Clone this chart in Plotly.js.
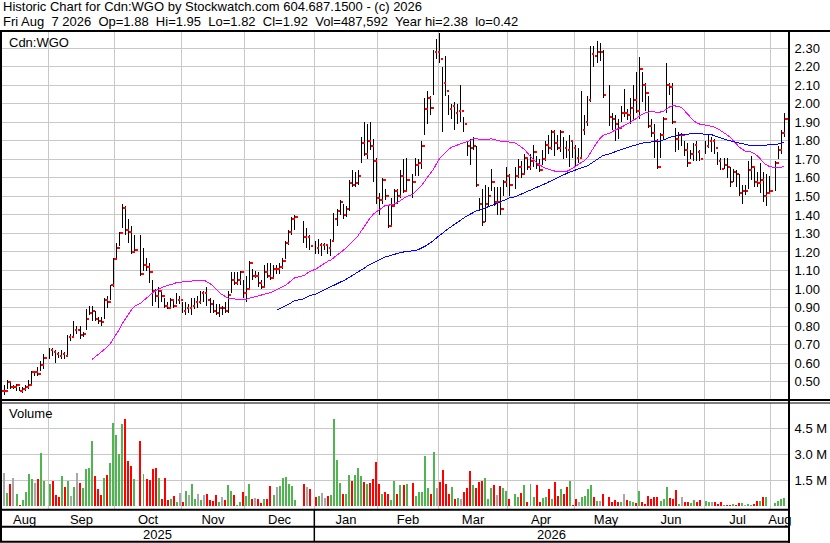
<!DOCTYPE html>
<html>
<head>
<meta charset="utf-8">
<script src="https://cdn.plot.ly/plotly-3.0.1.min.js"></script>
<style>
html,body{margin:0;padding:0;background:#fff;overflow:hidden}
#chart{width:830px;height:543px}
#chart .scatterlayer path.js-line{shape-rendering:crispEdges}
#chart .barlayer path{shape-rendering:crispEdges}
</style>
</head>
<body>
<div id="chart"></div>
<script>
// ---------------- DATA ----------------
const symbol = 'Cdn:WGO';
const startDate = '2025-08-11';
const holidays = ['2025-09-01','2025-10-13','2025-12-25','2025-12-26','2026-01-01',
                  '2026-02-16','2026-04-03','2026-05-18','2026-07-01','2026-08-03'];

const high = [
 0.50,0.48,0.51,0.50,0.48,0.49,0.47,0.47,0.48,0.51,0.56,0.56,0.58,0.61,0.65,
 0.68,0.68,0.67,0.66,0.67,0.66,0.75,0.76,0.83,0.80,0.80,0.77,0.89,0.91,0.91,0.88,0.85,0.85,0.95,0.96,1.02,
 1.17,1.25,1.31,1.46,1.45,1.38,1.34,1.29,1.29,1.22,1.17,1.14,1.05,1.00,1.01,0.99,0.95,0.93,0.95,0.94,0.98,0.96,
 0.93,0.93,0.92,0.95,0.95,0.96,0.99,0.99,1.01,0.95,0.94,0.92,0.92,0.91,0.93,0.99,1.09,1.09,1.09,1.10,
 1.05,1.07,1.15,1.11,1.10,1.09,1.05,1.13,1.14,1.14,1.13,1.13,1.14,1.17,1.26,1.32,1.39,1.40,1.37,1.33,1.29,
 1.26,1.27,1.25,1.25,1.24,1.27,1.41,1.43,1.48,1.46,1.45,1.59,1.64,1.63,1.64,1.82,1.90,1.89,1.90,1.81,1.71,
 1.52,1.60,1.54,1.45,1.49,1.54,1.54,1.64,1.70,1.71,1.62,1.71,1.70,1.80,2.03,2.07,2.04,2.29,2.35,
 2.38,2.20,2.26,2.05,2.00,2.01,2.00,2.10,1.93,1.80,1.81,1.82,1.77,1.49,1.54,1.56,1.55,1.65,1.55,1.55,1.55,1.59,
 1.66,1.62,1.66,1.70,1.69,1.73,1.70,1.73,1.78,1.72,1.70,1.75,1.80,1.83,1.86,1.86,1.83,1.86,1.82,1.80,1.83,
 1.80,1.78,1.76,2.07,1.94,2.04,2.31,2.31,2.34,2.33,2.29,2.10,1.95,1.94,1.92,1.99,2.08,1.97,2.03,2.10,
 2.17,2.25,2.17,2.11,2.04,1.92,1.89,1.81,1.84,1.93,2.22,2.11,2.11,1.87,1.85,1.84,1.80,1.79,1.75,1.79,1.80,1.75,
 1.80,1.83,1.82,1.81,1.74,1.71,1.71,1.71,1.66,1.65,1.64,1.62,1.56,1.56,1.69,1.72,1.66,1.63,1.68,1.63,1.62,1.61,
 1.69,1.77,1.86,1.95
];
const low = [
 0.42,0.43,0.46,0.46,0.46,0.45,0.45,0.44,0.45,0.46,0.49,0.53,0.53,0.56,0.57,
 0.62,0.64,0.60,0.63,0.62,0.62,0.64,0.72,0.74,0.76,0.73,0.74,0.78,0.86,0.83,0.83,0.81,0.80,0.84,0.90,0.94,
 1.01,1.16,1.23,1.33,1.29,1.25,1.19,1.20,1.07,1.10,1.10,1.03,0.91,0.93,0.90,0.93,0.90,0.89,0.90,0.90,0.92,0.92,
 0.87,0.86,0.87,0.86,0.89,0.90,0.92,0.93,0.91,0.87,0.87,0.86,0.85,0.86,0.87,0.87,0.98,1.02,1.02,1.02,
 0.95,0.93,1.00,1.05,1.06,1.01,1.00,1.01,1.06,1.05,1.06,1.08,1.08,1.11,1.16,1.24,1.29,1.32,1.25,1.22,1.21,
 1.19,1.19,1.18,1.21,1.19,1.18,1.26,1.34,1.40,1.38,1.39,1.42,1.55,1.55,1.56,1.68,1.72,1.70,1.75,1.58,1.46,
 1.40,1.46,1.48,1.33,1.34,1.45,1.46,1.49,1.52,1.53,1.49,1.61,1.61,1.65,1.83,1.89,1.94,2.05,2.24,
 2.22,1.85,2.04,1.94,1.92,1.86,1.89,1.90,1.85,1.72,1.67,1.75,1.55,1.42,1.34,1.36,1.45,1.53,1.45,1.40,1.40,1.50,
 1.55,1.50,1.54,1.60,1.60,1.62,1.64,1.64,1.66,1.65,1.63,1.67,1.69,1.73,1.75,1.72,1.75,1.74,1.70,1.71,1.66,
 1.71,1.66,1.68,1.70,1.83,1.88,2.01,2.20,2.22,2.23,2.03,1.88,1.86,1.80,1.81,1.90,1.93,1.91,1.89,1.92,
 1.95,1.92,2.01,1.96,1.87,1.82,1.71,1.65,1.71,1.81,1.95,2.05,1.89,1.74,1.75,1.77,1.72,1.66,1.70,1.69,1.69,1.69,
 1.73,1.76,1.74,1.73,1.67,1.64,1.65,1.60,1.55,1.58,1.55,1.50,1.46,1.51,1.54,1.59,1.55,1.55,1.52,1.47,1.45,1.52,
 1.53,1.70,1.73,1.82
];
const close = [
 0.45,0.45,0.50,0.47,0.47,0.48,0.45,0.46,0.47,0.48,0.55,0.55,0.54,0.59,0.63,
 0.67,0.66,0.65,0.64,0.65,0.64,0.74,0.74,0.78,0.78,0.75,0.76,0.84,0.87,0.88,0.84,0.83,0.82,0.94,0.93,1.02,
 1.16,1.22,1.30,1.44,1.32,1.31,1.20,1.21,1.08,1.13,1.12,1.09,0.99,0.96,0.99,0.96,0.91,0.90,0.94,0.91,0.94,0.94,
 0.88,0.90,0.90,0.91,0.93,0.93,0.98,0.98,0.94,0.92,0.88,0.87,0.90,0.90,0.88,0.97,1.05,1.03,1.05,1.09,
 0.98,1.00,1.14,1.07,1.07,1.03,1.01,1.09,1.07,1.06,1.11,1.11,1.12,1.15,1.25,1.31,1.38,1.39,1.28,1.28,1.23,
 1.22,1.24,1.24,1.24,1.22,1.26,1.38,1.42,1.47,1.40,1.43,1.57,1.56,1.57,1.61,1.79,1.73,1.80,1.77,1.69,1.49,
 1.48,1.59,1.50,1.34,1.45,1.53,1.50,1.61,1.53,1.59,1.58,1.67,1.68,1.77,1.97,2.03,1.98,2.28,2.28,
 2.24,2.11,2.07,1.97,1.99,1.95,1.96,1.96,1.89,1.77,1.76,1.77,1.56,1.46,1.36,1.46,1.50,1.58,1.47,1.47,1.43,1.58,
 1.61,1.56,1.61,1.66,1.62,1.71,1.66,1.69,1.74,1.67,1.64,1.70,1.78,1.76,1.85,1.79,1.76,1.85,1.76,1.75,1.80,
 1.76,1.71,1.71,1.86,1.90,2.02,2.27,2.26,2.28,2.28,2.05,1.93,1.92,1.89,1.87,1.95,1.95,1.94,1.98,2.02,
 1.96,2.19,2.10,2.06,1.88,1.84,1.80,1.66,1.83,1.92,2.10,2.09,1.90,1.81,1.83,1.83,1.75,1.68,1.73,1.78,1.74,1.70,
 1.77,1.80,1.80,1.76,1.69,1.65,1.67,1.66,1.58,1.63,1.62,1.52,1.53,1.53,1.64,1.66,1.58,1.57,1.59,1.50,1.52,1.53,
 1.68,1.75,1.84,1.92
];
// volume in millions of shares
const volume = [
 1.23,1.96,0.75,1.27,1.62,0.71,0.10,0.37,0.81,1.85,1.58,1.38,1.56,3.12,1.46,
 1.29,1.46,0.65,0.54,1.75,1.12,1.46,0.60,1.12,1.96,1.35,1.04,2.15,2.21,3.77,1.75,0.98,0.65,1.62,1.79,2.54,
 4.85,4.15,3.06,4.79,5.08,2.65,2.33,1.58,3.77,1.85,1.58,1.52,2.15,2.21,1.63,0.42,1.67,0.37,0.42,0.58,0.27,0.77,
 0.27,0.88,0.67,1.27,0.42,0.71,0.38,0.65,0.71,0.35,0.31,0.65,0.27,0.54,0.37,1.23,0.88,0.65,0.10,0.27,
 0.85,0.62,1.31,0.44,0.48,0.42,0.17,0.42,0.42,1.17,0.65,1.12,1.19,1.63,1.71,1.31,1.19,0.38,1.29,1.13,1.00,
 0.56,0.60,0.75,0.50,0.60,0.65,5.04,2.67,1.37,0.69,0.69,1.81,1.46,1.81,2.21,1.75,1.40,1.29,1.37,1.58,2.56,
 1.27,0.69,0.81,0.71,0.38,1.46,0.71,1.21,1.25,1.27,1.35,0.60,0.83,0.83,2.90,1.06,0.71,3.13,1.06,
 1.40,2.10,1.29,0.71,1.12,0.44,0.48,0.42,0.83,1.06,2.04,1.23,1.06,1.40,1.46,1.63,0.42,1.06,1.23,0.65,1.17,1.06,
 0.88,0.42,0.71,0.54,0.77,1.23,0.23,1.29,0.54,1.23,0.25,0.50,0.54,1.00,0.42,1.40,0.60,1.00,0.71,1.12,1.46,
 0.10,0.42,0.25,0.54,0.60,0.98,1.25,0.54,0.31,0.31,0.71,0.54,0.25,0.37,0.25,0.25,0.71,0.37,0.31,0.25,
 0.19,0.88,0.25,0.13,0.60,0.42,0.54,0.54,0.31,0.42,1.12,0.48,0.42,0.94,0.13,0.54,0.25,0.25,0.19,0.37,0.25,0.37,
 0.31,0.25,0.25,0.25,0.13,0.25,0.06,0.08,0.08,0.13,0.08,0.19,0.19,0.06,0.13,0.08,0.13,0.31,0.31,0.54,0.54,0.04,
 0.19,0.31,0.42,0.49
];
const lastOpen = 1.88;
const lastVolumeShares = 487592;
const maShort = 30, maLong = 90;

const monthNames = ['Jan','Feb','Mar','Apr','May','Jun','Jul','Aug','Sep','Oct','Nov','Dec'];
const dayNames = ['Sun','Mon','Tue','Wed','Thu','Fri','Sat'];
const priceTicks = [0.5,0.6,0.7,0.8,0.9,1.0,1.1,1.2,1.3,1.4,1.5,1.6,1.7,1.8,1.9,2.0,2.1,2.2,2.3];
const volumeTicks = [1.5, 3.0, 4.5];
const volumeTickText = ['1.5 M','3.0 M','4.5 M'];
const headerLine1 = 'Historic Chart for Cdn:WGO by Stockwatch.com 604.687.1500 - (c) 2026';

// ---------------- BUILD ----------------
function iso(d){ return d.toISOString().slice(0,10); }
const slots = [], dates = [], bounds = [];
{
  let d = new Date(startDate + 'T00:00:00Z'), slot = 0, lastSlot = -1;
  bounds.push({slot: null, month: d.getUTCMonth(), year: d.getUTCFullYear()});
  while (dates.length < close.length) {
    const wd = d.getUTCDay(), isWk = wd >= 1 && wd <= 5;
    if (d.getUTCDate() === 1) bounds.push({slot: isWk ? slot : lastSlot, month: d.getUTCMonth(), year: d.getUTCFullYear()});
    if (isWk) {
      if (!holidays.includes(iso(d))) { slots.push(slot); dates.push(new Date(d)); }
      lastSlot = slot; slot++;
    }
    d.setUTCDate(d.getUTCDate() + 1);
  }
}
const n = close.length;
const xr = [slots[0] - 0.13, slots[n-1] + 1.5];
const gridX = bounds.filter(b => b.slot !== null).map(b => b.slot + 0.5);
const segStart = [xr[0], ...gridX], segEnd = [...gridX, xr[1]];
const labelX = segStart.map((s,i) => (s + segEnd[i]) / 2);
const labelText = bounds.map(b => monthNames[b.month]);
const yearBound = bounds.find(b => b.slot !== null && b.month === 0);
const yearX = yearBound.slot + 0.5;
const years = [bounds[0].year, yearBound.year];
const yearCenters = [(xr[0] + yearX)/2, (yearX + xr[1])/2];

function sma(arr, w){ return arr.map((v,i) => i < w-1 ? null : arr.slice(i-w+1, i+1).reduce((a,b)=>a+b,0)/w); }
const ma1 = sma(close, maShort), ma2 = sma(close, maLong);

const hlX = [], hlY = [], ckX = [], ckY = [];
for (let i = 0; i < n; i++) {
  hlX.push(slots[i], slots[i], null); hlY.push(low[i], high[i], null);
  ckX.push(slots[i] + 0.25, slots[i] + 1.1, null); ckY.push(close[i], close[i], null);
}
const volColors = close.map((c,i) => i === 0 || c === close[i-1] ? '#a8a8a8' : (c > close[i-1] ? '#50b450' : '#ff0000'));

const ld = dates[n-1];
const sp2 = ' \u00a0';
const dd = String(ld.getUTCDate()).padStart(2, '\u00a0');
const headerLine2 = dayNames[ld.getUTCDay()] + ' ' + monthNames[ld.getUTCMonth()] + ' ' + dd + ' ' + ld.getUTCFullYear()
  + sp2 + 'Op=' + lastOpen.toFixed(2) + sp2 + 'Hi=' + high[n-1].toFixed(2) + sp2 + 'Lo=' + low[n-1].toFixed(2)
  + sp2 + 'Cl=' + close[n-1].toFixed(2) + sp2 + 'Vol=' + lastVolumeShares.toLocaleString('en-US')
  + sp2 + 'Year hi=' + Math.max(...high).toFixed(2) + sp2 + 'lo=' + Math.min(...low).toFixed(2);

// ---------------- LAYOUT ----------------
const W = 830, H = 543, L = 1, R = 41, T = 31, B = 33;
const plotW = W - L - R, plotH = H - T - B;
const px = p => (p - L) / plotW;
const py = p => (H - B - p) / plotH;
const FONT = 'Liberation Sans, Arial, Helvetica, sans-serif';
const GRID = '#c8c8c8';

const traces = [
  {type:'scatter', mode:'lines', x:hlX, y:hlY, line:{color:'#000', width:1}, hoverinfo:'skip', xaxis:'x', yaxis:'y'},
  {type:'scatter', mode:'lines', x:ckX, y:ckY, line:{color:'#ff0000', width:2}, hoverinfo:'skip', xaxis:'x', yaxis:'y'},
  {type:'scatter', mode:'lines', x:slots, y:ma1, line:{color:'#ff00ff', width:1}, connectgaps:false, hoverinfo:'skip', xaxis:'x', yaxis:'y'},
  {type:'scatter', mode:'lines', x:slots, y:ma2, line:{color:'#0000ff', width:1}, connectgaps:false, hoverinfo:'skip', xaxis:'x', yaxis:'y'},
  {type:'bar', x:slots, y:volume, width:0.66, marker:{color:volColors, line:{width:0}}, hoverinfo:'skip', xaxis:'x2', yaxis:'y2'}
];

const line = (x0,y0,x1,y1,w,xref) => ({type:'line', xref:xref||'paper', yref:'paper', x0, y0, x1, y1, line:{color:'#000', width:w}, layer:'above'});
const shapes = [
  line(px(0), py(31), px(830), py(31), 2),
  line(px(1), py(31), px(1), py(542), 2),
  line(1, py(31), 1, py(543), 2),
  line(px(0), py(400), px(830), py(400), 2),
  line(px(0), py(403), px(830), py(403), 1),
  line(px(0), py(509.7), 1, py(509.7), 2),
  line(px(0), py(526.7), 1, py(526.7), 2),
  line(px(0), py(541.7), 1, py(541.7), 2),
  {type:'line', xref:'x2', yref:'paper', x0:yearX, x1:yearX, y0:py(510), y1:py(542), line:{color:'#000', width:1.5}, layer:'above'}
];

const ann = (text, x, y, opts) => Object.assign({text, x, y, xref:'paper', yref:'paper', xanchor:'left', yanchor:'middle', showarrow:false,
  font:{family:FONT, size:13, color:'#000'}}, opts || {});
const annotations = [
  ann(headerLine1, px(1), py(6.5)),
  ann(headerLine2, px(1), py(21.5)),
  ann(symbol, px(7), py(42)),
  ann('Volume', px(7), py(413)),
  ann(String(years[0]), yearCenters[0], py(534.5), {xref:'x2', xanchor:'center'}),
  ann(String(years[1]), yearCenters[1], py(534.5), {xref:'x2', xanchor:'center'})
];

const layout = {
  width: W, height: H,
  margin: {l:L, r:R, t:T, b:B, pad:0},
  paper_bgcolor:'#fff', plot_bgcolor:'#fff',
  showlegend:false, bargap:0,
  font:{family:FONT, size:13, color:'#000'},
  xaxis:{domain:[0,1], range:xr, anchor:'y', tickmode:'array', tickvals:gridX, showticklabels:false, ticks:'',
         showgrid:true, gridcolor:GRID, gridwidth:1, zeroline:false, showline:false, fixedrange:true},
  yaxis:{domain:[py(400),1], range:[0.401,2.393], side:'right', anchor:'x', tickmode:'array', tickvals:priceTicks,
         ticktext:priceTicks.map(v=>v.toFixed(2)), ticks:'outside', ticklen:2, tickcolor:'rgba(0,0,0,0)',
         showgrid:true, gridcolor:GRID, gridwidth:1, zeroline:false, showline:false, tickfont:{size:13}},
  xaxis2:{domain:[0,1], range:xr, anchor:'y2', tickmode:'array', tickvals:labelX, ticktext:labelText, ticks:'',
          showgrid:false, minor:{tickmode:'array', tickvals:gridX, showgrid:true, gridcolor:GRID, gridwidth:1, ticks:''},
          zeroline:false, showline:false, tickfont:{size:13}},
  yaxis2:{domain:[0,py(403)], range:[-0.21,5.99], side:'right', anchor:'x2', tickmode:'array', tickvals:volumeTicks,
          ticktext:volumeTickText, ticks:'outside', ticklen:2, tickcolor:'rgba(0,0,0,0)',
          showgrid:true, gridcolor:GRID, gridwidth:1, zeroline:false, showline:false, tickfont:{size:13}},
  shapes, annotations
};

Plotly.newPlot('chart', traces, layout, {staticPlot:true, displayModeBar:false});
</script>
</body>
</html>
